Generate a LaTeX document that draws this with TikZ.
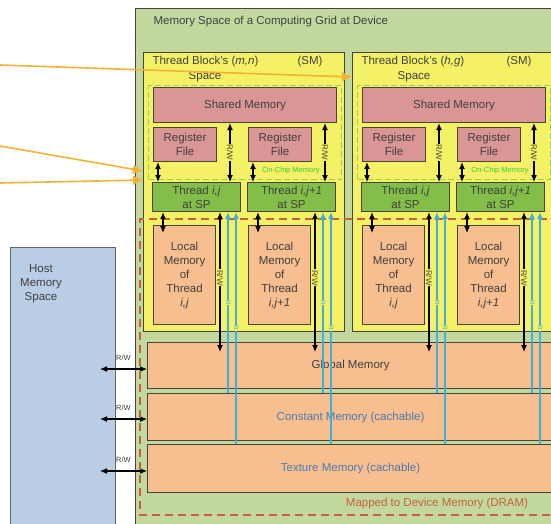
\documentclass[tikz,border=0pt]{standalone}
\usepackage{fontspec}
\setmainfont{Liberation Sans}
\usetikzlibrary{arrows.meta}

\begin{document}
\begin{tikzpicture}[x=1pt,y=-1pt,
  font=\fontsize{11.5}{14}\selectfont,
  every node/.style={text=textGray},
  box/.style={draw=edgeGray,line width=1.1pt,anchor=north west,inner sep=0pt,align=center},
  blockbox/.style={box,fill=blockYellow},
  rosebox/.style={box,fill=sharedRose},
  threadbox/.style={box,fill=threadGreen},
  peachbox/.style={box,fill=localPeach},
  chipbox/.style={draw=chipGreen,line width=1pt,dash pattern=on 6pt off 3pt,anchor=north west,inner sep=0pt},
  hostbox/.style={draw=hostEdge,line width=1pt,fill=hostBlue,anchor=north west,inner sep=0pt},
  rw/.style={draw=black,line width=1.1pt,{Latex[length=7pt,width=6pt]}-{Latex[length=7pt,width=6pt]}},
  readline/.style={draw=readCyan,line width=1.3pt,-{Latex[length=7pt,width=6pt]}},
  hint/.style={draw=hintAmber,line width=1.6pt,-{Latex[length=10pt,width=10pt]}},
  dram/.style={draw=dramRed,line width=1.4pt,dash pattern=on 8pt off 5pt},
  tag/.style={font=\fontsize{7.5}{8}\selectfont,inner sep=0.6pt},
  rwtag/.style={tag,font=\fontsize{8}{9}\selectfont,fill=blockYellow,rotate=-90},
  rtag/.style={font=\fontsize{6.5}{7}\selectfont,inner sep=0.3pt,text=readCyan,fill=blockYellow,rotate=-90}]
\definecolor{gridGreen}{HTML}{C3D89E}
\definecolor{blockYellow}{HTML}{F5F166}
\definecolor{sharedRose}{HTML}{D99694}
\definecolor{threadGreen}{HTML}{82BE48}
\definecolor{localPeach}{HTML}{F7BE8F}
\definecolor{hostBlue}{HTML}{B9CDE5}
\definecolor{hostEdge}{HTML}{5F6670}
\definecolor{edgeGray}{HTML}{45453A}
\definecolor{textGray}{HTML}{404040}
\definecolor{memBlue}{HTML}{4B7DB0}
\definecolor{chipGreen}{HTML}{9ACD5A}
\definecolor{chipText}{HTML}{3CC83C}
\definecolor{readCyan}{HTML}{3CB0D9}
\definecolor{hintAmber}{HTML}{F3B233}
\definecolor{dramRed}{HTML}{C5603E}
\clip (0,0) rectangle (551,523);

\node[box,fill=gridGreen,minimum width=430,minimum height=530] (grid) at (135,8) {};
\node[anchor=west] (gridtitle) at (150,22) {Memory Space of a Computing Grid at Device};

\node[hostbox,minimum width=105,minimum height=290] (host) at (10,247) {};
\node[align=center] (hosttitle) at (41,284) {Host\\Memory\\Space};

\node[peachbox,minimum width=406,minimum height=46] (glob) at (147,342) {Global Memory};
\node[peachbox,text=memBlue,minimum width=406,minimum height=47] (const) at (147,393) {Constant Memory (cachable)};
\node[peachbox,text=memBlue,minimum width=406,minimum height=48] (tex) at (147,444) {Texture Memory (cachable)};

\foreach \m/\my in {glob/369,const/419,tex/471} {
  \coordinate (hostrw\m) at (100,\my);
  \draw[rw] (hostrw\m) -- (\m.west |- hostrw\m) node[midway,above=7pt,tag] {R/W};
}

\foreach \bk/\dx/\ids in {1/0/{m,n},2/209/{h,g}} {
  \begin{scope}[xshift=\dx]
    \node[blockbox,minimum width=201,minimum height=279] (blk\bk) at (143,52) {};
    \node[anchor=west] (blktitle\bk) at (149,62) {Thread Block's (\textit{\ids})};
    \node (sm\bk) at (310,62) {(SM)};
    \node (space\bk) at (205,77) {Space};
    \node[chipbox,minimum width=193,minimum height=94] (chip\bk) at (148,85) {};
    \node[tag,text=chipText] (chiptag\bk) at (291,171) {On-Chip Memory};
    \node[rosebox,minimum width=183,minimum height=35] (shm\bk) at (153,87) {Shared Memory};
    \foreach \tn/\tx/\idx in {1/0/{i,j},2/95/{i,j+1}} {
      \begin{scope}[xshift=\tx]
        \node[rosebox,minimum width=63,minimum height=34] (reg\bk\tn) at (153,127) {Register\\File};
        \node[threadbox,minimum width=88,minimum height=29] (thr\bk\tn) at (152,182) {Thread \textit{\idx}\\at SP};
        \node[peachbox,minimum width=62,minimum height=99] (loc\bk\tn) at (153,225) {Local\\Memory\\of\\Thread\\\textit{\idx}};
      \end{scope}
    }
  \end{scope}
}

\draw[dram] (560,219) -- (140,219) -- (140,515) -- (560,515);
\node[text=dramRed] (dramtag) at (437,504) {Mapped to Device Memory (DRAM)};

\foreach \bk/\dx in {1/0,2/209} {
  \foreach \tn/\tx in {1/0,2/95} {
    \begin{scope}[xshift={\dx+\tx}]
      \coordinate (shx\bk\tn) at (230,0);
      \coordinate (rgx\bk\tn) at (158,0);
      \coordinate (lcx\bk\tn) at (163,233);
      \coordinate (gtip\bk\tn) at (220,352);
      \coordinate (rda\bk\tn) at (228,0);
      \coordinate (rdb\bk\tn) at (236,0);
    \end{scope}
    \draw[rw] (shm\bk.south -| shx\bk\tn) -- (thr\bk\tn.north -| shx\bk\tn) node[midway,rwtag] {R/W};
    \draw[rw] (reg\bk\tn.south -| rgx\bk\tn) -- (thr\bk\tn.north -| rgx\bk\tn);
    \draw[rw] (thr\bk\tn.south -| lcx\bk\tn) -- (lcx\bk\tn);
    \draw[rw] (thr\bk\tn.south -| gtip\bk\tn) -- (gtip\bk\tn) node[pos=0.47,rwtag] {R/W};
    \draw[readline] (const.north -| rda\bk\tn) -- (thr\bk\tn.south -| rda\bk\tn) node[midway,rtag] {R};
    \draw[readline] (tex.north -| rdb\bk\tn) -- (thr\bk\tn.south -| rdb\bk\tn) node[midway,rtag] {R};
  }
}

\coordinate (hinta) at (0,65);
\coordinate (hintb) at (0,146);
\coordinate (hintc) at (0,183);
\draw[hint] (hinta) -- (blk2.west |- space2);
\draw[hint] (hintb) -- (blk1.west |- chiptag1);
\draw[hint] (hintc) -- (blk1.west |- chip1.south);
\end{tikzpicture}
\end{document}
